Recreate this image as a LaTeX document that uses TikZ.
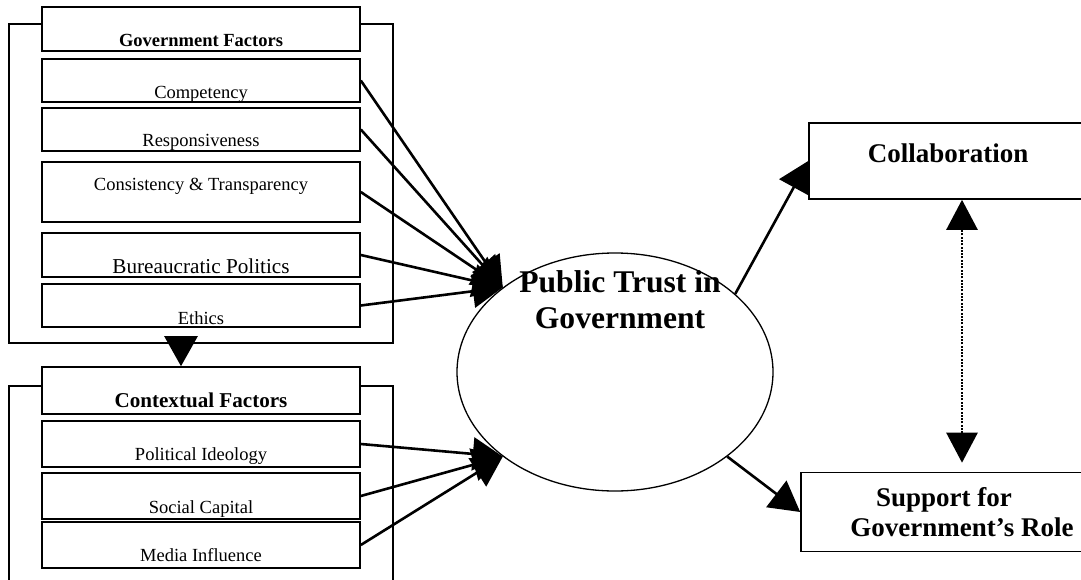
\documentclass[tikz,border=0pt]{standalone}
\usepackage{fontspec}
\setmainfont{Liberation Serif}
\usetikzlibrary{arrows.meta}
\usetikzlibrary{shapes.geometric}
\tikzset{
outer box/.style = { rectangle, draw = black, line width = 1.4pt, inner sep = 0pt, minimum width = 384pt },
factor/.style = { rectangle, draw = black, fill = white, line width = 1.6pt, inner sep = 0pt, minimum width = 318pt, anchor = base, font = \fontsize{18.5}{22}\selectfont },
factor head/.style = { factor, font = \fontsize{18.5}{22}\selectfont\bfseries },
outcome/.style = { rectangle, draw = black, fill = white, line width = 1.6pt, inner sep = 0pt, font = \fontsize{27}{30}\selectfont\bfseries },
core/.style = { ellipse, draw = black, line width = 1.3pt, minimum width = 316pt, minimum height = 238pt, inner sep = 0pt },
link/.style = { line width = 2.6pt, -{Triangle[length = 30pt, width = 33pt]} },
both link/.style = { line width = 2.6pt, dash pattern = on 2pt off 1.3pt, {Triangle[length = 30pt, width = 31pt]}-{Triangle[length = 30pt, width = 31pt]} },
}

\begin{document}
\begin{tikzpicture}[x = 1pt, y = -1pt]
    \useasboundingbox (0, 0) rectangle (1081, 580);
    \clip (0, 0) rectangle (1081, 580);
    % government side
    \node[outer box, minimum height = 319pt] (gov box) at (201, 183.5) {};
    \node[factor head, text height = 40pt, text depth = 4pt] (gov head) at (201, 47) {Government Factors};
    \node[factor, text height = 40pt, text depth = 3pt] (competency) at (201, 99) {Competency};
    \node[factor, text height = 39pt, text depth = 4pt] (responsiveness) at (201, 147) {Responsiveness};
    \node[factor, text height = 28pt, text depth = 32pt] (consistency) at (201, 190) {Consistency \& Transparency};
    \node[factor, text height = 40pt, text depth = 4pt, font = \fontsize{21.2}{25}\selectfont] (bureaucratic) at (201, 273) {Bureaucratic Politics};
    \node[factor, text height = 40pt, text depth = 3pt] (ethics) at (201, 324) {Ethics};
    % contextual side
    \node[outer box, minimum height = 224pt] (ctx box) at (201, 498) {};
    \node[factor head, text height = 40pt, text depth = 7pt, font = \fontsize{21.1}{25}\selectfont\bfseries] (ctx head) at (201, 407) {Contextual Factors};
    \node[factor, text height = 39pt, text depth = 7pt] (ideology) at (201, 460) {Political Ideology};
    \node[factor, text height = 40pt, text depth = 6pt] (social) at (201, 513) {Social Capital};
    \node[factor, text height = 39pt, text depth = 7pt] (media) at (201, 561) {Media Influence};
    \coordinate (drop) at ([xshift = -20pt]gov box.south);
    \draw[link] (drop) -- (drop |- ctx head.north);
    % trust and outcomes
    \node[core] (trust) at (615, 372) {};
    \node[inner sep = 0pt, align = center, font = \fontsize{31.6}{36}\selectfont\bfseries] (trust label) at (620, 300) {Public Trust in\\Government};
    \node[outcome, minimum width = 278pt, text height = 40pt, text depth = 36pt, anchor = base] (collab) at (948, 163) {Collaboration};
    \node[outcome, minimum width = 322pt, minimum height = 79pt, align = center] (support) at (962, 512) {Support for\hspace*{36pt}\\Government's Role};
    \foreach \f in {competency, responsiveness, consistency, bureaucratic, ethics}
      \draw[link] (\f.east) -- (trust.143);
    \foreach \f in {ideology, social, media}
      \draw[link] (\f.east) -- (trust.217);
    \draw[link] (trust.33) -- (collab.west);
    \draw[link] (trust.-37) -- (support.west);
    \draw[both link, shorten <= 9pt] (support.north) -- (support.north |- collab.south);
\end{tikzpicture}
\end{document}
